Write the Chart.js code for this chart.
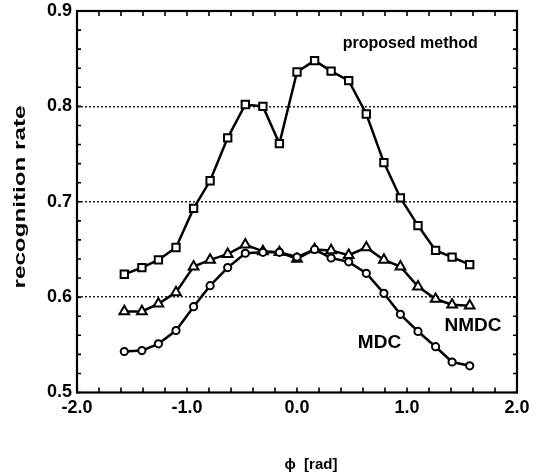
<!DOCTYPE html>
<html><head><meta charset="utf-8">
<script src="https://cdn.jsdelivr.net/npm/chart.js@4.4.1/dist/chart.umd.min.js"></script>
<style>html,body{margin:0;padding:0;background:#fff;}#wrap{width:543px;height:475px;}</style>
</head><body><div id="wrap"><canvas id="c" width="543" height="475"></canvas></div>
<script>
const phi      = [-1.57,-1.41,-1.26,-1.10,-0.94,-0.79,-0.63,-0.47,-0.31,-0.16,0.00,0.16,0.31,0.47,0.63,0.79,0.94,1.10,1.26,1.41,1.57];
const proposed = [0.624,0.631,0.639,0.652,0.693,0.722,0.767,0.802,0.800,0.761,0.836,0.848,0.837,0.827,0.792,0.741,0.704,0.675,0.649,0.642,0.634];
const nmdc     = [0.585,0.585,0.593,0.605,0.632,0.639,0.645,0.655,0.648,0.647,0.640,0.650,0.649,0.644,0.652,0.639,0.632,0.611,0.598,0.592,0.591];
const mdc      = [0.543,0.544,0.551,0.565,0.590,0.612,0.631,0.646,0.647,0.647,0.642,0.650,0.641,0.637,0.625,0.604,0.582,0.564,0.548,0.532,0.528];
const xTicks = [-2, -1, 0, 1, 2];
const yTicks = [0.5, 0.6, 0.7, 0.8, 0.9];
const gridValues = [0.6, 0.7, 0.8];
const annotations = [
  {text: 'proposed method', x: 1.03, y: 0.866},
  {text: 'NMDC', x: 1.60, y: 0.570},
  {text: 'MDC', x: 0.75, y: 0.552}
];
const xTitle = '\u03D5  [rad]';
const yTitle = 'recognition rate';

const FONT = '"Liberation Sans", Arial, Helvetica, sans-serif';

function pts(ys){ return phi.map((x,i)=>({x:x, y:ys[i]})); }

const frame = {
  id: 'frame',
  afterDraw(chart){
    const ctx = chart.ctx, a = chart.chartArea, xs = chart.scales.x, ys = chart.scales.y;
    ctx.save();
    ctx.strokeStyle = '#000';
    ctx.lineWidth = 1.6;
    ctx.beginPath();
    for (let i = 0; i <= 20; i++) {
      const v = -2 + i * 0.2;
      const px = xs.getPixelForValue(v);
      ctx.moveTo(px, a.bottom); ctx.lineTo(px, a.bottom - 5);
      ctx.moveTo(px, a.top); ctx.lineTo(px, a.top + 5);
    }
    for (let i = 0; i <= 20; i++) {
      const v = 0.5 + i * 0.02;
      const py = ys.getPixelForValue(v);
      ctx.moveTo(a.left, py); ctx.lineTo(a.left + 4, py);
      ctx.moveTo(a.right, py); ctx.lineTo(a.right - 4, py);
    }
    ctx.stroke();
    ctx.lineWidth = 2.2;
    ctx.strokeRect(a.left, a.top, a.right - a.left, a.bottom - a.top);
    ctx.fillStyle = '#000';
    ctx.textAlign = 'center';
    ctx.textBaseline = 'middle';
    annotations.forEach(an => {
      ctx.font = (an.text.length > 5 ? 'bold 16px ' : 'bold 19px ') + FONT;
      ctx.fillText(an.text, xs.getPixelForValue(an.x), ys.getPixelForValue(an.y));
    });
    ctx.font = 'bold 15px ' + FONT;
    ctx.fillText(xTitle, 311, 465);
    ctx.font = 'bold 17px ' + FONT;
    const w = ctx.measureText(yTitle).width;
    ctx.translate(20, 197);
    ctx.rotate(-Math.PI / 2);
    ctx.scale(183 / w, 1);
    ctx.fillText(yTitle, 0, 0);
    ctx.restore();
  }
};

const common = {
  borderColor: '#000', borderWidth: 2.5, backgroundColor: '#fff',
  pointBackgroundColor: '#fff', pointBorderColor: '#000', pointBorderWidth: 2,
  fill: false, tension: 0
};

new Chart(document.getElementById('c'), {
  type: 'line',
  data: {
    datasets: [
      Object.assign({label: 'MDC', data: pts(mdc), pointStyle: 'circle', pointRadius: 3.6}, common),
      Object.assign({label: 'NMDC', data: pts(nmdc), pointStyle: 'triangle', pointRadius: 5.6}, common),
      Object.assign({label: 'proposed method', data: pts(proposed), pointStyle: 'rect', pointRadius: 5.2}, common)
    ]
  },
  options: {
    responsive: false,
    animation: false,
    events: [],
    layout: {padding: {top: 11, right: 26, left: 0, bottom: 0}},
    plugins: {legend: {display: false}, tooltip: {enabled: false}},
    scales: {
      x: {
        type: 'linear', min: -2, max: 2,
        afterBuildTicks: s => { s.ticks = xTicks.map(v => ({value: v})); },
        afterFit: s => { s.height = 82.5; s.paddingLeft = 0; s.paddingRight = 0; },
        ticks: {
          color: '#000', padding: 5,
          font: {family: FONT, size: 18, weight: 'bold'},
          callback: v => v.toFixed(1)
        },
        grid: {display: false, drawTicks: false},
        border: {display: false}
      },
      y: {
        type: 'linear', min: 0.5, max: 0.9,
        afterBuildTicks: s => { s.ticks = yTicks.map(v => ({value: v})); },
        afterFit: s => { s.width = 77; s.paddingTop = 0; s.paddingBottom = 0; },
        ticks: {
          color: '#000', padding: 5,
          font: {family: FONT, size: 18, weight: 'bold'},
          callback: v => v.toFixed(1)
        },
        grid: {
          drawTicks: false, lineWidth: 1.5,
          color: c => (c.tick && gridValues.some(g => Math.abs(g - c.tick.value) < 1e-6)) ? '#222' : 'rgba(0,0,0,0)'
        },
        border: {display: false, dash: [2, 2]}
      }
    }
  },
  plugins: [frame]
});
</script>
</body></html>
